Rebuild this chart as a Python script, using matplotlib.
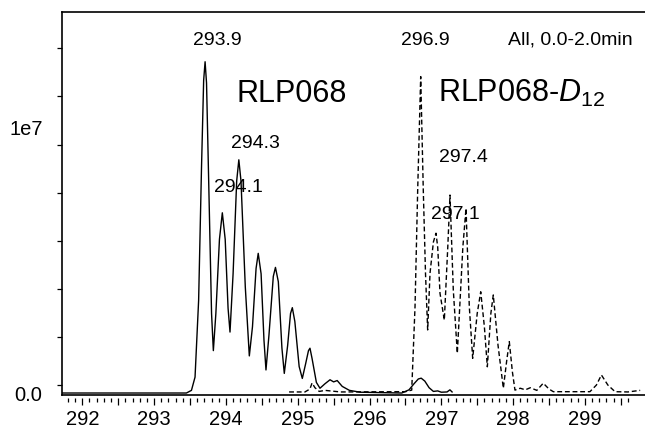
import numpy as np
import matplotlib
matplotlib.use("Agg")
import matplotlib.pyplot as plt
from matplotlib.ticker import FixedLocator, FuncFormatter

plt.rcParams['font.family'] = ['Liberation Sans', 'DejaVu Sans']
plt.rcParams['mathtext.fontset'] = 'custom'
plt.rcParams['mathtext.rm'] = 'Liberation Sans'
plt.rcParams['mathtext.it'] = 'Liberation Sans:italic'

# spectrum RLP068 (solid), m/z vs intensity in units of 1e7
mz_solid = [291.72, 293.45, 293.52, 293.57, 293.62, 293.66, 293.69, 293.71, 293.73, 293.76,
            293.80, 293.825, 293.86, 293.91, 293.95, 293.99, 294.03, 294.057, 294.10, 294.15,
            294.18, 294.21, 294.27, 294.326, 294.37, 294.42, 294.45, 294.49, 294.53, 294.558,
            294.60, 294.66, 294.69, 294.73, 294.78, 294.813, 294.86, 294.90, 294.925, 294.96,
            295.02, 295.064, 295.11, 295.15, 295.171, 295.20, 295.26, 295.31, 295.38, 295.45,
            295.50, 295.55, 295.62, 295.72, 295.87, 296.45, 296.55, 296.62, 296.68, 296.72,
            296.77, 296.83, 296.89, 296.95, 297.00, 297.08, 297.12, 297.15]
int_solid = [0.0, 0.0, 0.01, 0.06, 0.35, 0.85, 1.18, 1.25, 1.17, 0.80,
             0.30, 0.16, 0.30, 0.58, 0.68, 0.58, 0.32, 0.23, 0.45, 0.80,
             0.88, 0.80, 0.40, 0.14, 0.25, 0.47, 0.527, 0.45, 0.20, 0.087,
             0.22, 0.44, 0.474, 0.42, 0.17, 0.074, 0.18, 0.30, 0.322, 0.27,
             0.10, 0.055, 0.11, 0.16, 0.169, 0.13, 0.04, 0.018, 0.035, 0.05,
             0.042, 0.047, 0.025, 0.01, 0.003, 0.0, 0.012, 0.035, 0.053, 0.056,
             0.045, 0.02, 0.006, 0.008, 0.003, 0.004, 0.012, 0.004]

# spectrum RLP068-D12 (dashed)
mz_dash = [294.88, 295.10, 295.17, 295.20, 295.24, 295.30, 295.38, 295.45, 295.60, 296.50,
           296.588, 296.634, 296.671, 296.713, 296.749, 296.78, 296.81, 296.843, 296.89, 296.926,
           296.95, 296.982, 297.042, 297.09, 297.121, 297.167, 297.223, 297.30, 297.344, 297.39,
           297.437, 297.50, 297.549, 297.60, 297.641, 297.69, 297.724, 297.79, 297.864, 297.91,
           297.947, 297.99, 298.026, 298.10, 298.17, 298.24, 298.33, 298.42, 298.50, 298.56,
           299.07, 299.16, 299.23, 299.32, 299.42, 299.60, 299.77]
int_dash = [0.004, 0.004, 0.015, 0.038, 0.02, 0.006, 0.01, 0.008, 0.004, 0.005,
            0.011, 0.326, 0.766, 1.194, 0.766, 0.45, 0.238, 0.453, 0.57, 0.603,
            0.55, 0.376, 0.275, 0.55, 0.747, 0.389, 0.15, 0.55, 0.697, 0.326,
            0.131, 0.30, 0.382, 0.25, 0.099, 0.30, 0.370, 0.18, 0.018, 0.12,
            0.194, 0.08, 0.011, 0.018, 0.012, 0.02, 0.01, 0.037, 0.015, 0.005,
            0.005, 0.03, 0.068, 0.03, 0.005, 0.004, 0.01]

# peak annotations: text, x, y (1e7)
peak_labels = ['293.9', '294.3', '294.1', '296.9', '297.4', '297.1']
peak_x = [293.876, 294.405, 294.169, 296.774, 297.302, 297.19]
peak_y = [1.332, 0.943, 0.777, 1.332, 0.887, 0.672]

xticks_major = np.arange(292, 300, 1)

fig = plt.figure(figsize=(6.45, 4.28), dpi=100)
ax = fig.add_axes([62/645, 33/428, 584/645, 383/428])

ax.plot(mz_solid, np.array(int_solid)*1e7, color='black', lw=1.0)
ax.plot(mz_dash, np.array(int_dash)*1e7, color='black', lw=1.0,
        linestyle=(0, (3.5, 2.0)))

ax.set_xlim(291.717, 299.851)
ax.set_ylim(-0.0075e7, 1.4377e7)

for s in ax.spines.values():
    s.set_linewidth(1.2)
ax.spines['right'].set_visible(False)

# y axis: labels only at 0 and 1e7, small ticks elsewhere
ax.set_yticks([0, 1e7])
ax.set_yticklabels(['0.0', '1e7'])
ax.yaxis.set_minor_locator(FixedLocator(np.arange(0.03, 1.4, 0.1815)*1e7))
ax.tick_params(axis='y', which='major', length=0, pad=14, labelsize=14.5)
ax.tick_params(axis='y', which='minor', length=3.5, width=0.9, direction='out')

# x axis ticks drawn slightly below the frame
ax.tick_params(axis='x', which='both', bottom=False, labelbottom=False)
sec = ax.secondary_xaxis(-0.009)
sec.spines['bottom'].set_visible(False)
sec.xaxis.set_major_locator(FixedLocator(np.arange(292, 299.6, 0.5)))
sec.xaxis.set_major_formatter(FuncFormatter(lambda v, p: '%d' % round(v) if abs(v - round(v)) < 0.01 else ''))
sec.xaxis.set_minor_locator(FixedLocator(np.arange(291.8, 299.65, 0.1)))
sec.tick_params(axis='x', which='major', length=5, width=0.9, direction='out', pad=3, labelsize=14.5)
sec.tick_params(axis='x', which='minor', length=3, width=0.9, direction='out')

for t, x, y in zip(peak_labels, peak_x, peak_y):
    ax.text(x, y*1e7, t, ha='center', va='center', fontsize=14)

ax.text(294.141, 1.098e7, 'RLP068', ha='left', va='baseline', fontsize=22)
ax.text(296.954, 1.098e7, r'RLP068-$\mathit{D}_{\mathit{12}}$', ha='left', va='baseline', fontsize=22)
ax.text(297.93, 1.332e7, 'All, 0.0-2.0min', ha='left', va='center', fontsize=14)

fig.savefig('out.png', dpi=100)
